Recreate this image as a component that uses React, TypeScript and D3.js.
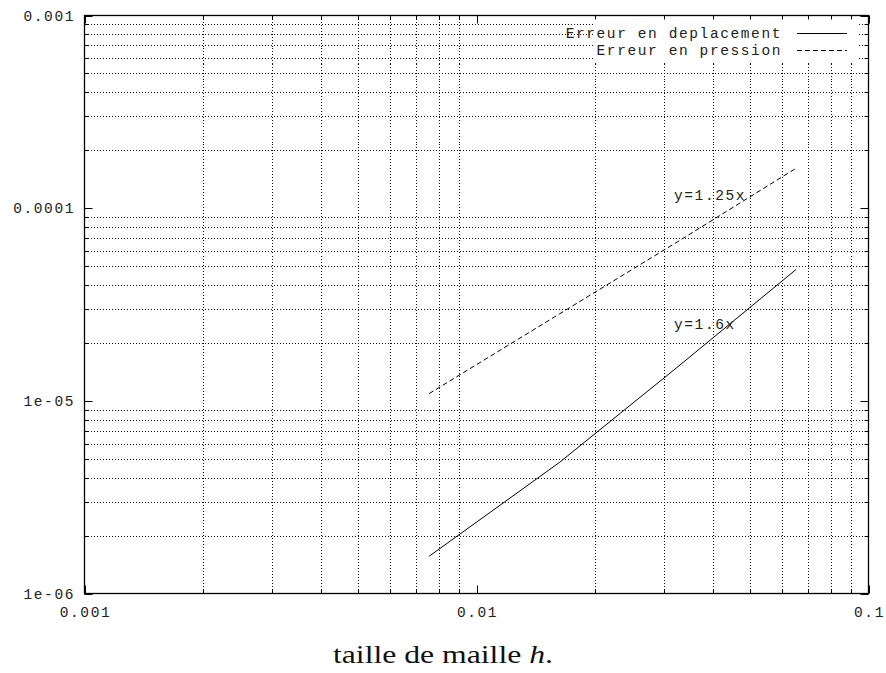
import React from "react";
import * as d3 from "d3";

const meshSizes = [0.00757, 0.0163, 0.0326, 0.0653];
const errDeplacement = [1.56e-6, 4.8e-6, 1.5e-5, 4.8e-5];
const errPression = [1.09e-5, 2.83e-5, 6.7e-5, 1.61e-4];
const xTickLabels = ["0.001", "0.01", "0.1"];
const yTickLabels = ["0.001", "0.0001", "1e-05", "1e-06"];
const yTickValues = [1e-3, 1e-4, 1e-5, 1e-6];
const xTickValues = [1e-3, 1e-2, 1e-1];
const seriesNames = ["Erreur en deplacement", "Erreur en pression"];
const annotations = [
  { text: "y=1.25x", x: 0.0319, y: 1.1e-4 },
  { text: "y=1.6x", x: 0.0319, y: 2.35e-5 },
];

const W = 886;
const H = 673;
const L = 84.5, R = 868.5, T = 15.5, B = 593.5;
const mono = "'Liberation Mono', 'DejaVu Sans Mono', monospace";

export default function App() {
  const x = d3.scaleLog().domain([1e-3, 1e-1]).range([L, R]);
  const y = d3.scaleLog().domain([1e-6, 1e-3]).range([B, T]);

  const xMinor: number[] = [];
  for (const dec of [1e-3, 1e-2]) for (let k = 2; k <= 9; k++) xMinor.push(k * dec);
  const yMinor: number[] = [];
  for (const dec of [1e-6, 1e-5, 1e-4]) for (let k = 2; k <= 9; k++) yMinor.push(k * dec);

  const line = d3
    .line<[number, number]>()
    .x((d) => x(d[0]))
    .y((d) => y(d[1]));
  const dep = line(meshSizes.map((h, i) => [h, errDeplacement[i]]));
  const pre = line(meshSizes.map((h, i) => [h, errPression[i]]));

  const gridStyle = { stroke: "#111", strokeWidth: 1, strokeDasharray: "1,2", shapeRendering: "crispEdges" as const };
  const textStyle: React.CSSProperties = { fontFamily: mono, fontSize: 14.5, letterSpacing: "1.6px", fill: "#222" };

  return (
    <svg width={W} height={H} style={{ position: "absolute", left: 0, top: 0, background: "#fff" }}>
      <rect x={0} y={0} width={W} height={H} fill="#fff" />
      {/* grid */}
      {xMinor.map((v, i) => (
        <line key={"gx" + i} x1={Math.round(x(v)) + 0.5} x2={Math.round(x(v)) + 0.5} y1={T} y2={B} {...gridStyle} />
      ))}
      {yMinor.map((v, i) => (
        <line key={"gy" + i} x1={L} x2={R} y1={Math.round(y(v)) + 0.5} y2={Math.round(y(v)) + 0.5} {...gridStyle} />
      ))}
      {/* legend background */}
      <rect x={594} y={19} width={264} height={43} fill="#fff" />
      {/* ticks */}
      {xMinor.map((v, i) => {
        const px = Math.round(x(v)) + 0.5;
        return (
          <g key={"tx" + i} stroke="#000" strokeWidth={1}>
            <line x1={px} x2={px} y1={B} y2={B - 4} />
            <line x1={px} x2={px} y1={T} y2={T + 4} />
          </g>
        );
      })}
      {xTickValues.map((v, i) => {
        const px = Math.round(x(v)) + 0.5;
        return (
          <g key={"TX" + i} stroke="#000" strokeWidth={1}>
            <line x1={px} x2={px} y1={B} y2={B - 8} />
            <line x1={px} x2={px} y1={T} y2={T + 8} />
          </g>
        );
      })}
      {yMinor.map((v, i) => {
        const py = Math.round(y(v)) + 0.5;
        return (
          <g key={"ty" + i} stroke="#000" strokeWidth={1}>
            <line x1={L} x2={L + 4} y1={py} y2={py} />
            <line x1={R} x2={R - 4} y1={py} y2={py} />
          </g>
        );
      })}
      {yTickValues.map((v, i) => {
        const py = Math.round(y(v)) + 0.5;
        return (
          <g key={"TY" + i} stroke="#000" strokeWidth={1}>
            <line x1={L} x2={L + 8} y1={py} y2={py} />
            <line x1={R} x2={R - 8} y1={py} y2={py} />
          </g>
        );
      })}
      {/* frame */}
      <rect x={L} y={T} width={R - L} height={B - T} fill="none" stroke="#000" strokeWidth={1.3} />
      {/* tick labels */}
      {yTickValues.map((v, i) => (
        <text key={"ly" + i} x={75} y={y(v) + 5} textAnchor="end" style={textStyle}>
          {yTickLabels[i]}
        </text>
      ))}
      {xTickValues.map((v, i) => (
        <text key={"lx" + i} x={x(v) + 1} y={617} textAnchor="middle" style={textStyle}>
          {xTickLabels[i]}
        </text>
      ))}
      {/* series */}
      <path d={dep || ""} fill="none" stroke="#000" strokeWidth={1} />
      <path d={pre || ""} fill="none" stroke="#000" strokeWidth={1} strokeDasharray="5,3" />
      {/* annotations */}
      {annotations.map((a, i) => (
        <text key={"an" + i} x={x(a.x)} y={y(a.y)} style={textStyle}>
          {a.text}
        </text>
      ))}
      {/* legend */}
      <text x={782} y={38} textAnchor="end" style={textStyle}>{seriesNames[0]}</text>
      <line x1={797} x2={847} y1={33.5} y2={33.5} stroke="#000" strokeWidth={1} />
      <text x={782} y={55} textAnchor="end" style={textStyle}>{seriesNames[1]}</text>
      <line x1={797} x2={847} y1={50.5} y2={50.5} stroke="#000" strokeWidth={1} strokeDasharray="5,3" />
      {/* x axis title */}
      <text
        x={333}
        y={663}
        textLength={220}
        lengthAdjust="spacingAndGlyphs"
        style={{ fontFamily: "'Liberation Serif', 'DejaVu Serif', serif", fontSize: 25, fill: "#111" }}
      >
        taille de maille <tspan fontStyle="italic">h</tspan>.
      </text>
    </svg>
  );
}
